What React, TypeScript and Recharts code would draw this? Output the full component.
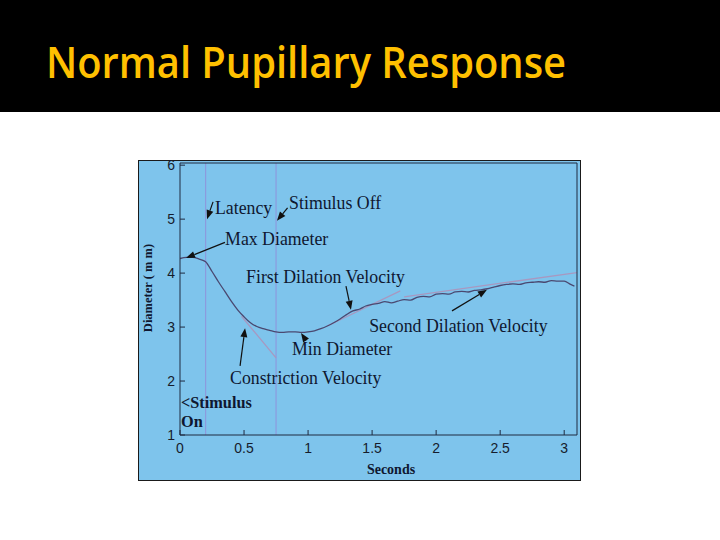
import React from 'react';
import { LineChart, Line, XAxis, YAxis, ReferenceLine, ReferenceDot } from 'recharts';

// pupil trace
const seconds = [
  0, 0.05, 0.1, 0.15, 0.2, 0.25, 0.3, 0.35, 0.4, 0.45, 0.5, 0.55, 0.6, 0.65, 0.7, 0.75, 0.8, 0.85, 0.9, 0.95,
  1.0, 1.05, 1.1, 1.15, 1.2, 1.25, 1.3, 1.35, 1.4, 1.45, 1.5, 1.55, 1.6, 1.65, 1.7, 1.75, 1.8, 1.85, 1.9, 1.95,
  2.0, 2.05, 2.1, 2.15, 2.2, 2.25, 2.3, 2.35, 2.4, 2.45, 2.5, 2.55, 2.6, 2.65, 2.7, 2.75, 2.8, 2.85, 2.9, 2.95,
  3.0, 3.05, 3.08,
];
const diameter = [
  4.27, 4.29, 4.29, 4.26, 4.21, 4.03, 3.84, 3.66, 3.48, 3.32, 3.19, 3.08, 3.01, 2.97, 2.94, 2.91, 2.9, 2.91, 2.91, 2.9,
  2.91, 2.93, 2.97, 3.02, 3.08, 3.15, 3.23, 3.3, 3.33, 3.39, 3.42, 3.44, 3.47, 3.45, 3.48, 3.51, 3.5, 3.55, 3.57, 3.56,
  3.61, 3.62, 3.61, 3.65, 3.66, 3.65, 3.68, 3.69, 3.71, 3.74, 3.77, 3.79, 3.8, 3.79, 3.82, 3.83, 3.84, 3.83, 3.86, 3.85,
  3.85, 3.79, 3.76,
];

// fitted velocity segments
const constrictionFit = [{ t: 0.48, d: 3.2 }, { t: 0.75, d: 2.43 }];
const firstDilationFit = [{ t: 1.15, d: 3.02 }, { t: 1.72, d: 3.67 }];
const secondDilationFit = [{ t: 1.75, d: 3.56 }, { t: 3.1, d: 4.01 }];

const stimulusMarks = [0.2, 0.75];

const xTicks = [0, 0.5, 1, 1.5, 2, 2.5, 3];
const yTicks = [1, 2, 3, 4, 5, 6];

const labels = [
  { text: 'Latency', t: 0.273, d: 5.09, bold: false },
  { text: 'Stimulus Off', t: 0.852, d: 5.18, bold: false },
  { text: 'Max Diameter', t: 0.352, d: 4.52, bold: false },
  { text: 'First Dilation Velocity', t: 0.516, d: 3.82, bold: false },
  { text: 'Second Dilation Velocity', t: 1.477, d: 2.9, bold: false },
  { text: 'Min Diameter', t: 0.875, d: 2.49, bold: false },
  { text: 'Constriction Velocity', t: 0.391, d: 1.95, bold: false },
  { text: '<Stimulus', t: 0.008, d: 1.5, bold: true },
  { text: 'On', t: 0.008, d: 1.15, bold: true },
];

const arrows = [
  { from: [0.258, 5.32], to: [0.211, 5.0] },
  { from: [0.84, 5.21], to: [0.757, 4.97] },
  { from: [0.351, 4.57], to: [0.047, 4.28] },
  { from: [1.296, 3.76], to: [1.335, 3.32] },
  { from: [2.124, 3.3], to: [2.397, 3.69] },
  { from: [0.976, 2.78], to: [0.945, 2.89] },
  { from: [0.469, 2.28], to: [0.508, 2.98] },
];

const trace = seconds.map((t, i) => ({ t, d: diameter[i] }));

const AXIS = '#1e2a40';
const INK = '#0f1730';

const ArrowShape = (p: any) => {
  const { x1, y1, x2, y2 } = p;
  const a = Math.atan2(y2 - y1, x2 - x1);
  const len = 9;
  const half = 3.5;
  const bx = x2 - len * Math.cos(a);
  const by = y2 - len * Math.sin(a);
  const pts = `${x2},${y2} ${bx + half * Math.sin(a)},${by - half * Math.cos(a)} ${bx - half * Math.sin(a)},${by + half * Math.cos(a)}`;
  return (
    <g>
      <line x1={x1} y1={y1} x2={bx} y2={by} stroke="#111" strokeWidth={1.2} />
      <polygon points={pts} fill="#111" />
    </g>
  );
};

const tickStyle = { fontFamily: '"Liberation Sans", Arial, sans-serif', fontSize: 14, fill: '#161c2c' };

export default function App() {
  return (
    <div style={{ position: 'absolute', left: 0, top: 0, width: 720, height: 540, background: '#fff', overflow: 'hidden' }}>
      <div style={{ position: 'absolute', left: 0, top: 0, width: 720, height: 112, background: '#000' }}>
        <svg width={720} height={112}>
          <text
            x={46} y={78} fill="#FFC000" fontFamily='"Open Sans", sans-serif' fontWeight={600} fontSize={44}
            textLength={520} lengthAdjust="spacingAndGlyphs"
          >
            Normal Pupillary Response
          </text>
        </svg>
      </div>
      <div
        style={{
          position: 'absolute', left: 138, top: 160, width: 443, height: 321,
          background: '#7EC4EC', border: '1px solid #1a1a1a', boxSizing: 'border-box',
        }}
      />
      <div style={{ position: 'absolute', left: 0, top: 0 }}>
        <LineChart width={720} height={540} margin={{ top: 162, right: 142, bottom: 75, left: 150 }}>
          <XAxis
            dataKey="t" type="number" domain={[0, 3.1]} ticks={xTicks} allowDataOverflow
            height={30} tickSize={-5} tickMargin={13} stroke={AXIS} tick={tickStyle}
          />
          <XAxis
            xAxisId="top" orientation="top" type="number" domain={[0, 3.1]} ticks={xTicks} allowDataOverflow
            height={1} tickSize={-5} tick={false} stroke={AXIS}
          />
          <YAxis
            type="number" domain={[1, 6.04]} ticks={yTicks} allowDataOverflow
            width={30} tickSize={-5} tickMargin={10} stroke={AXIS} tick={tickStyle}
          />
          <YAxis
            yAxisId="right" orientation="right" type="number" domain={[1, 6.04]} ticks={yTicks} allowDataOverflow
            width={1} tickSize={-5} tick={false} stroke={AXIS}
          />
          {stimulusMarks.map((t) => (
            <ReferenceLine key={t} x={t} stroke="#8c9ade" strokeWidth={1.2} />
          ))}
          <Line data={constrictionFit} dataKey="d" type="linear" stroke="#a898c0" strokeWidth={1.3} dot={false} isAnimationActive={false} />
          <Line data={firstDilationFit} dataKey="d" type="linear" stroke="#a898c0" strokeWidth={1.3} dot={false} isAnimationActive={false} />
          <Line data={secondDilationFit} dataKey="d" type="linear" stroke="#a898c0" strokeWidth={1.3} dot={false} isAnimationActive={false} />
          <Line data={trace} dataKey="d" type="monotone" stroke="#4a4870" strokeWidth={1.3} dot={false} isAnimationActive={false} />
          {arrows.map((a, i) => (
            <ReferenceLine
              key={`arrow-${i}`}
              segment={[{ x: a.from[0], y: a.from[1] }, { x: a.to[0], y: a.to[1] }]}
              shape={ArrowShape}
            />
          ))}
          {labels.map((l) => (
            <ReferenceDot
              key={l.text}
              x={l.t}
              y={l.d}
              r={0}
              shape={(p: any) => (
                <text
                  x={p.cx}
                  y={p.cy}
                  fill={INK}
                  fontFamily='"Liberation Serif", "Times New Roman", serif'
                  fontSize={l.bold ? 16.3 : 17.8}
                  fontWeight={l.bold ? 700 : 400}
                >
                  {l.text}
                </text>
              )}
            />
          ))}
        </LineChart>
      </div>
      <svg width={720} height={540} style={{ position: 'absolute', left: 0, top: 0, pointerEvents: 'none' }}>
        <text x={391} y={474} textAnchor="middle" fill={INK} fontFamily='"Liberation Serif", serif' fontWeight={700} fontSize={14}>
          Seconds
        </text>
        <text
          transform="translate(152 288) rotate(-90)"
          textAnchor="middle"
          fill={INK}
          fontFamily='"Liberation Serif", serif'
          fontWeight={700}
          fontSize={12.5}
        >
          Diameter ( m m)
        </text>
      </svg>
    </div>
  );
}
